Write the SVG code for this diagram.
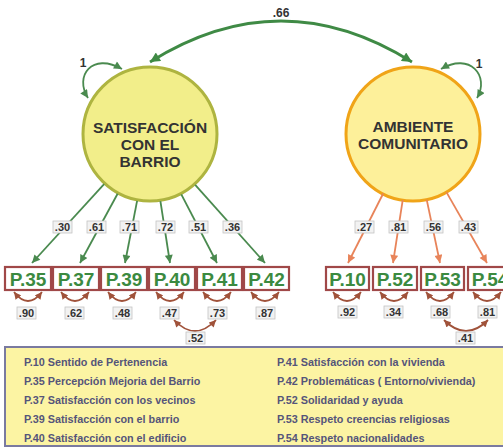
<svg xmlns="http://www.w3.org/2000/svg" width="503" height="448" viewBox="0 0 503 448">
<style>
.lat{font-family:"Liberation Sans",Arial,sans-serif;font-weight:bold;font-size:15.5px;fill:#333;text-anchor:middle}
.obs rect{fill:#fff;stroke:#a04848;stroke-width:2.2}
.obs text{font-family:"Liberation Sans",Arial,sans-serif;font-weight:bold;font-size:19px;fill:#3b8a40;text-anchor:middle}
.lbl rect{fill:#f2f2f2;stroke:#c4c4c4;stroke-width:0.8}
.lbl text,.plain{font-family:"Liberation Sans",Arial,sans-serif;font-weight:bold;font-size:11px;fill:#333;text-anchor:middle}
.g{stroke:#4a8a4f;stroke-width:1.8;fill:none}
.o{stroke:#e8845a;stroke-width:1.8;fill:none}
.b{stroke:#a0523a;stroke-width:1.8;fill:none}
.leg{font-family:"Liberation Sans",Arial,sans-serif;font-weight:bold;font-size:10.8px;fill:#55557a}
</style>
<defs>
<marker id="ag" viewBox="0 0 10 10" refX="10" refY="5" markerWidth="9" markerHeight="8" markerUnits="userSpaceOnUse" orient="auto-start-reverse"><path d="M0,0 L10,5 L0,10 z" fill="#4a8a4f"/></marker>
<marker id="ao" viewBox="0 0 10 10" refX="10" refY="5" markerWidth="9" markerHeight="8" markerUnits="userSpaceOnUse" orient="auto-start-reverse"><path d="M0,0 L10,5 L0,10 z" fill="#e8845a"/></marker>
<marker id="ab" viewBox="0 0 10 10" refX="10" refY="5" markerWidth="8" markerHeight="7" markerUnits="userSpaceOnUse" orient="auto-start-reverse"><path d="M0,0 L10,5 L0,10 z" fill="#a0523a"/></marker>
<marker id="ag2" viewBox="0 0 10 10" refX="10" refY="5" markerWidth="12" markerHeight="10" markerUnits="userSpaceOnUse" orient="auto-start-reverse"><path d="M0,0 L10,5 L0,10 z" fill="#3f8a45"/></marker>
</defs>

<g id="legend">
<rect x="5" y="347" width="510" height="99" fill="#fcf4a3" stroke="#7a7aa0" stroke-width="2"/>
<text class="leg" x="24" y="366">P.10 Sentido de Pertenencia</text>
<text class="leg" x="24" y="385">P.35 Percepción Mejoria del Barrio</text>
<text class="leg" x="24" y="404">P.37 Satisfacción con los vecinos</text>
<text class="leg" x="24" y="423">P.39 Satisfacción con el barrio</text>
<text class="leg" x="24" y="442">P.40 Satisfacción con el edificio</text>
<text class="leg" x="277" y="366">P.41 Satisfacción con la vivienda</text>
<text class="leg" x="277" y="385">P.42 Problemáticas ( Entorno/vivienda)</text>
<text class="leg" x="277" y="404">P.52 Solidaridad y ayuda</text>
<text class="leg" x="277" y="423">P.53 Respeto creencias religiosas</text>
<text class="leg" x="277" y="442">P.54 Respeto nacionalidades</text>
</g>

<g id="node-satisfaccion">
<circle cx="150" cy="134" r="67" fill="#f2ee8a" stroke="#aeb440" stroke-width="3"/>
<text class="lat" x="150" y="133">SATISFACCIÓN</text>
<text class="lat" x="150" y="150">CON EL</text>
<text class="lat" x="150" y="167">BARRIO</text>
</g>
<g id="node-ambiente">
<circle cx="413" cy="134" r="67" fill="#fdf09a" stroke="#f0a418" stroke-width="3"/>
<text class="lat" x="413" y="132">AMBIENTE</text>
<text class="lat" x="413" y="149">COMUNITARIO</text>
</g>

<g id="node-p35" class="obs"><rect x="5" y="267" width="46" height="23"/><text x="28" y="285.5">P.35</text></g>
<g id="node-p37" class="obs"><rect x="53" y="267" width="46" height="23"/><text x="76" y="285.5">P.37</text></g>
<g id="node-p39" class="obs"><rect x="101" y="267" width="46" height="23"/><text x="124" y="285.5">P.39</text></g>
<g id="node-p40" class="obs"><rect x="149" y="267" width="46" height="23"/><text x="172" y="285.5">P.40</text></g>
<g id="node-p41" class="obs"><rect x="197" y="267" width="45" height="23"/><text x="219.5" y="285.5">P.41</text></g>
<g id="node-p42" class="obs"><rect x="244" y="267" width="45" height="23"/><text x="266.5" y="285.5">P.42</text></g>
<g id="node-p10" class="obs"><rect x="326" y="267" width="43" height="23"/><text x="347.5" y="285.5">P.10</text></g>
<g id="node-p52" class="obs"><rect x="373" y="267" width="44" height="23"/><text x="395" y="285.5">P.52</text></g>
<g id="node-p53" class="obs"><rect x="421" y="267" width="43" height="23"/><text x="442.5" y="285.5">P.53</text></g>
<g id="node-p54" class="obs"><rect x="468" y="267" width="44" height="23"/><text x="490" y="285.5">P.54</text></g>

<g id="connectors">
<path d="M150,62 Q281,-20 412,62" fill="none" stroke="#3f8a45" stroke-width="2.8" marker-start="url(#ag2)" marker-end="url(#ag2)"/>
<path class="g" d="M88,98 C74,76 92,52 122,69" marker-start="url(#ag)" marker-end="url(#ag)"/>
<path class="g" d="M441,69 C470,52 490,76 477,98" marker-start="url(#ag)" marker-end="url(#ag)"/>

<line class="g" x1="104.1" y1="184.2" x2="32" y2="263" marker-end="url(#ag)"/>
<line class="g" x1="117.6" y1="193.8" x2="80" y2="263" marker-end="url(#ag)"/>
<line class="g" x1="137.1" y1="200.8" x2="125" y2="263" marker-end="url(#ag)"/>
<line class="g" x1="160.4" y1="201.2" x2="170" y2="263" marker-end="url(#ag)"/>
<line class="g" x1="181.3" y1="194.3" x2="217" y2="263" marker-end="url(#ag)"/>
<line class="g" x1="195.2" y1="184.8" x2="265" y2="263" marker-end="url(#ag)"/>

<line class="o" x1="383.2" y1="193.5" x2="348" y2="263" marker-end="url(#ao)"/>
<line class="o" x1="402.7" y1="200.2" x2="393" y2="263" marker-end="url(#ao)"/>
<line class="o" x1="426.7" y1="199.6" x2="440" y2="263" marker-end="url(#ao)"/>
<line class="o" x1="446.4" y1="192.1" x2="487" y2="263" marker-end="url(#ao)"/>

<path class="b" d="M14,292 Q28,310 42,292" marker-start="url(#ab)" marker-end="url(#ab)"/>
<path class="b" d="M61,292 Q75,310 89,292" marker-start="url(#ab)" marker-end="url(#ab)"/>
<path class="b" d="M108,292 Q122,310 136,292" marker-start="url(#ab)" marker-end="url(#ab)"/>
<path class="b" d="M156,292 Q170,310 184,292" marker-start="url(#ab)" marker-end="url(#ab)"/>
<path class="b" d="M203,292 Q217,310 231,292" marker-start="url(#ab)" marker-end="url(#ab)"/>
<path class="b" d="M251,292 Q265,310 279,292" marker-start="url(#ab)" marker-end="url(#ab)"/>
<path class="b" d="M333,292 Q347,310 361,292" marker-start="url(#ab)" marker-end="url(#ab)"/>
<path class="b" d="M380,292 Q394,310 408,292" marker-start="url(#ab)" marker-end="url(#ab)"/>
<path class="b" d="M426,292 Q440,310 454,292" marker-start="url(#ab)" marker-end="url(#ab)"/>
<path class="b" d="M473,292 Q487,310 501,292" marker-start="url(#ab)" marker-end="url(#ab)"/>

<path class="b" d="M174,320 Q195,342 216,320" marker-start="url(#ab)" marker-end="url(#ab)"/>
<path class="b" d="M444,320 Q466,342 488,320" marker-start="url(#ab)" marker-end="url(#ab)"/>

<text class="plain" x="281" y="17" style="font-size:12px">.66</text>
<text class="plain" x="83" y="67" style="font-size:12px">1</text>
<text class="plain" x="479" y="68" style="font-size:12px">1</text>

<g class="lbl">
<rect x="53" y="221" width="19" height="12"/><text x="62.5" y="231">.30</text>
<rect x="87" y="221" width="19" height="12"/><text x="96.5" y="231">.61</text>
<rect x="120" y="221" width="19" height="12"/><text x="129.5" y="231">.71</text>
<rect x="156" y="221" width="19" height="12"/><text x="165.5" y="231">.72</text>
<rect x="189" y="221" width="19" height="12"/><text x="198.5" y="231">.51</text>
<rect x="223" y="221" width="19" height="12"/><text x="232.5" y="231">.36</text>
<rect x="355" y="221" width="19" height="12"/><text x="364.5" y="231">.27</text>
<rect x="389" y="221" width="19" height="12"/><text x="398.5" y="231">.81</text>
<rect x="424" y="221" width="19" height="12"/><text x="433.5" y="231">.56</text>
<rect x="459" y="221" width="19" height="12"/><text x="468.5" y="231">.43</text>

<rect x="17" y="307" width="19" height="12"/><text x="26.5" y="317">.90</text>
<rect x="65" y="307" width="19" height="12"/><text x="74.5" y="317">.62</text>
<rect x="113" y="307" width="19" height="12"/><text x="122.5" y="317">.48</text>
<rect x="160" y="307" width="19" height="12"/><text x="169.5" y="317">.47</text>
<rect x="208" y="307" width="19" height="12"/><text x="217.5" y="317">.73</text>
<rect x="256" y="307" width="19" height="12"/><text x="265.5" y="317">.87</text>
<rect x="338" y="306" width="19" height="12"/><text x="347.5" y="316">.92</text>
<rect x="384" y="306" width="19" height="12"/><text x="393.5" y="316">.34</text>
<rect x="431" y="306" width="19" height="12"/><text x="440.5" y="316">.68</text>
<rect x="478" y="306" width="19" height="12"/><text x="487.5" y="316">.81</text>

<rect x="186" y="332" width="19" height="12"/><text x="195.5" y="342">.52</text>
<rect x="456" y="332" width="19" height="12"/><text x="465.5" y="342">.41</text>
</g>
</g>
</svg>
